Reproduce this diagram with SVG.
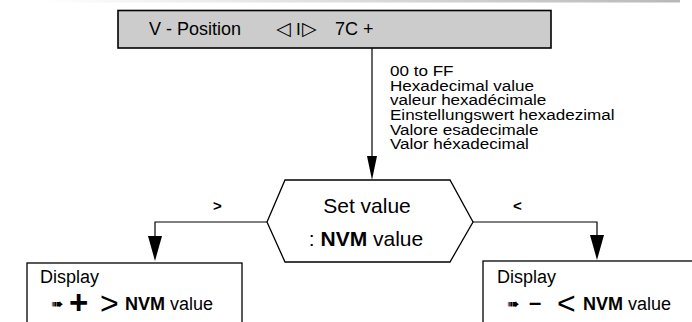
<svg xmlns="http://www.w3.org/2000/svg" width="692" height="322" viewBox="0 0 692 322">
<style>
text{font-family:"Liberation Sans",Arial,sans-serif;fill:#000}
.t18{font-size:18px}
.t21{font-size:21px}
.sm{font-size:15.5px}
.b{font-weight:bold}
.box{fill:#fff;stroke:#000;stroke-width:1.3}
.conn{fill:none;stroke:#000;stroke-width:1.2}
.sym{font-family:"DejaVu Sans",sans-serif}
</style>
<defs>
<linearGradient id="g" x1="0" x2="1" y1="0" y2="0">
<stop offset="0" stop-color="#fff"/>
<stop offset="1" stop-color="#b8b8b8"/>
</linearGradient>
</defs>
<rect x="40" y="0" width="640" height="2.5" fill="url(#g)"/>
<g id="vpos">
<rect x="118" y="10.5" width="433" height="37.5" fill="#cccccc" stroke="#000" stroke-width="1.6"/>
<text class="t18" x="149" y="35">V - Position</text>
<text class="sym" font-size="19" x="276" y="35">◁</text>
<text font-size="17" x="296" y="35">I</text>
<text class="sym" font-size="19" x="302" y="35">▷</text>
<text class="t18" x="335" y="35">7C +</text>
</g>
<g id="range" transform="translate(390 0) scale(1.1 1)">
<text class="sm"><tspan x="0" y="76">00 to FF</tspan><tspan x="0" y="90.7">Hexadecimal value</tspan><tspan x="0" y="105.3">valeur hexadécimale</tspan><tspan x="0" y="120">Einstellungswert hexadezimal</tspan><tspan x="0" y="134.6">Valore esadecimale</tspan><tspan x="0" y="149.2">Valor héxadecimal</tspan></text>
</g>
<g id="set">
<polygon class="box" points="267,222 285,180 450,180 473,222 450,262 285,262"/>
<text class="t21" x="367" y="213" text-anchor="middle">Set value</text>
<text class="t21" x="366" y="246" text-anchor="middle">: <tspan class="b">NVM</tspan> value</text>
</g>
<g id="dispplus">
<rect class="box" x="27" y="263" width="215" height="70"/>
<text class="t18" x="40" y="283">Display</text>
<text class="sym" font-size="15" x="51" y="309" fill="#333">➠</text>
<text class="b" font-size="33" x="69" y="314">+</text>
<text font-size="32" x="100" y="314">&gt;</text>
<text class="t18" x="125" y="310"><tspan class="b">NVM</tspan> value</text>
</g>
<g id="dispminus">
<rect class="box" x="483" y="261" width="220" height="70"/>
<text class="t18" x="497" y="283">Display</text>
<text class="sym" font-size="15" x="507" y="309" fill="#333">➠</text>
<text class="b" font-size="22" x="529" y="310">–</text>
<text font-size="32" x="557" y="314">&lt;</text>
<text class="t18" x="583" y="310"><tspan class="b">NVM</tspan> value</text>
</g>
<g id="connectors">
<line class="conn" x1="372" y1="48" x2="372" y2="160"/>
<polygon points="367,156 377,156 372,180"/>
<polyline class="conn" points="267,222 155,222 155,240"/>
<polygon points="148,236 162,236 155,261"/>
<polyline class="conn" points="473,222 597,222 597,238"/>
<polygon points="590,235 604,235 597,260"/>
<text class="b" font-size="15" x="213" y="211">&gt;</text>
<text class="b" font-size="15" x="513" y="211">&lt;</text>
</g>
</svg>
